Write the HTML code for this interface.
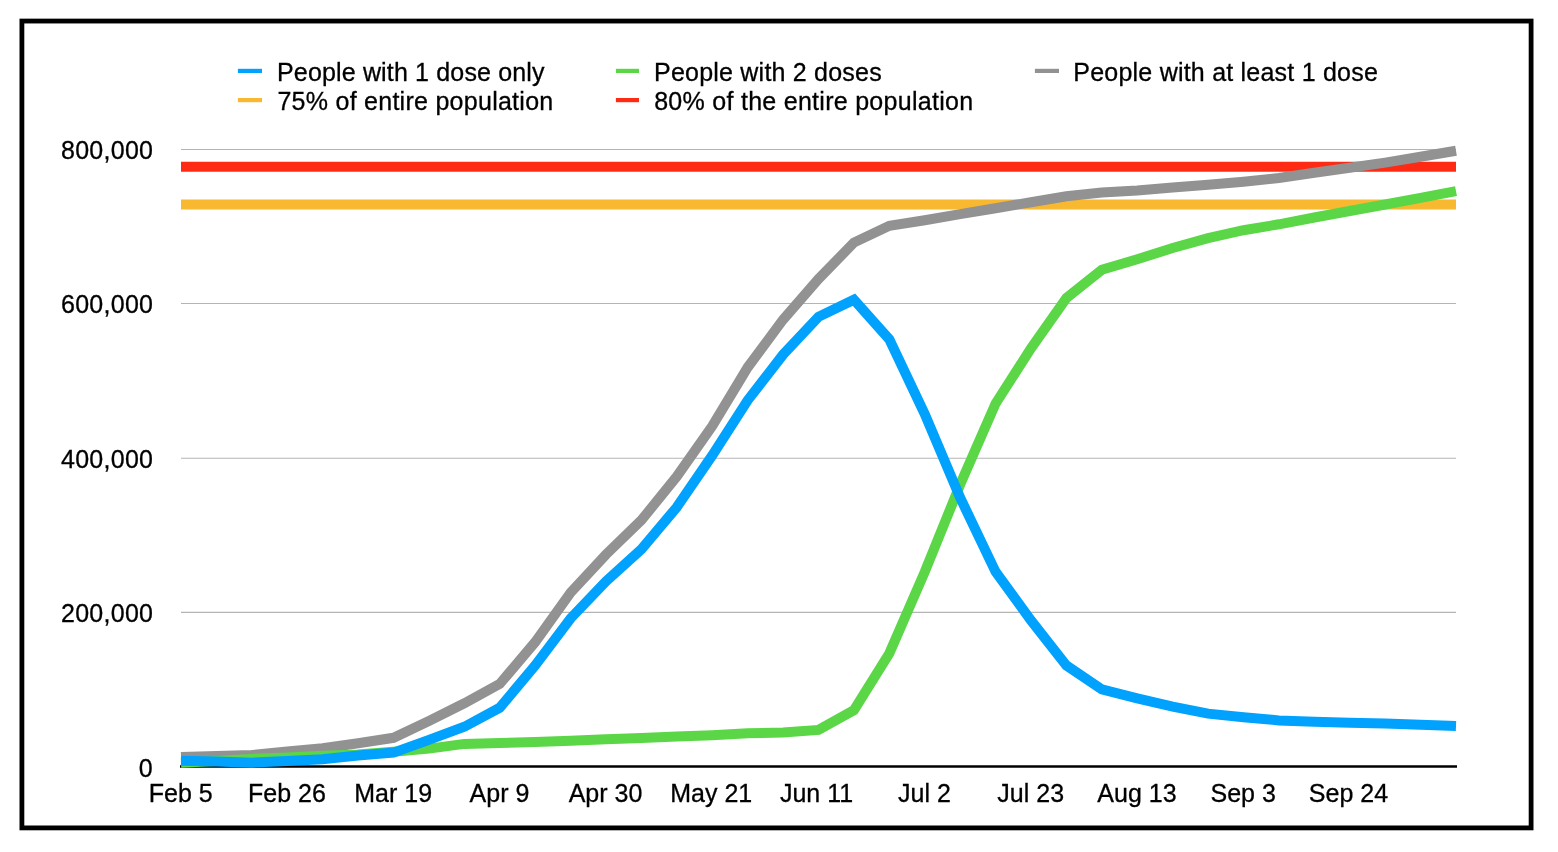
<!DOCTYPE html>
<html lang="en">
<head>
<meta charset="utf-8">
<title>Vaccination progress chart</title>
<style>
html,body{margin:0;padding:0;background:#fff;}
body{width:1558px;height:852px;overflow:hidden;}
svg{display:block;}
text{font-family:"Liberation Sans",Arial,Helvetica,sans-serif;font-size:25px;fill:#000;stroke:#000;stroke-width:0.3px;}
.ser{fill:none;stroke-width:10;stroke-linejoin:miter;stroke-linecap:butt;stroke-miterlimit:10;}
</style>
</head>
<body>
<svg width="1558" height="852" viewBox="0 0 1558 852">
<rect x="0" y="0" width="1558" height="852" fill="#ffffff"/>
<!-- frame -->
<rect x="21.9" y="21.05" width="1509.2" height="806.85" fill="none" stroke="#000" stroke-width="4.8"/>

<!-- gridlines -->
<g stroke="#b4b4b4" stroke-width="1.1">
<line x1="181" y1="149.5" x2="1456" y2="149.5"/>
<line x1="181" y1="303.5" x2="1456" y2="303.5"/>
<line x1="181" y1="458.3" x2="1456" y2="458.3"/>
<line x1="181" y1="612.4" x2="1456" y2="612.4"/>
</g>
<!-- y axis labels -->
<g text-anchor="end">
<text x="153.3" y="159.3" letter-spacing="0.28">800,000</text>
<text x="153.3" y="313.3" letter-spacing="0.28">600,000</text>
<text x="153.3" y="468.1" letter-spacing="0.28">400,000</text>
<text x="153.3" y="622.2" letter-spacing="0.28">200,000</text>
<text x="152.6" y="776.7">0</text>
</g>
<!-- threshold lines -->
<line class="ser" stroke="#f8b930" x1="181" y1="204.4" x2="1456" y2="204.4"/>
<line class="ser" stroke="#ff2a14" x1="181" y1="166.85" x2="1456" y2="166.85"/>
<!-- axis -->
<line x1="180" y1="766.45" x2="1457" y2="766.45" stroke="#000" stroke-width="2.5"/>
<!-- series -->
<polyline class="ser" stroke="#929292" points="181.00,757.00 216.42,756.00 251.83,755.10 287.25,751.60 322.67,748.30 358.08,743.30 393.50,737.80 428.92,720.90 464.33,703.30 499.75,683.90 535.17,642.10 570.58,592.60 606.00,554.50 641.42,520.20 676.83,476.40 712.25,426.00 747.67,367.40 783.08,319.60 818.50,279.00 853.92,242.60 889.33,225.80 924.75,220.20 960.17,214.10 995.58,208.30 1031.00,202.20 1066.42,196.30 1101.83,192.50 1137.25,190.60 1172.67,187.50 1208.08,184.70 1243.50,181.70 1278.92,178.00 1314.33,172.80 1349.75,167.70 1385.17,162.60 1420.58,156.80 1456.00,150.80"/>
<polyline class="ser" stroke="#5ad647" points="181.00,762.80 216.42,761.00 251.83,758.90 287.25,757.40 322.67,755.70 358.08,754.40 393.50,751.70 428.92,748.60 464.33,743.90 499.75,742.90 535.17,742.10 570.58,740.70 606.00,739.30 641.42,737.90 676.83,736.60 712.25,735.20 747.67,733.30 783.08,732.50 818.50,729.90 853.92,710.20 889.33,653.30 924.75,571.90 960.17,484.50 995.58,403.50 1031.00,348.30 1066.42,298.00 1101.83,269.75 1137.25,259.20 1172.67,248.00 1208.08,238.10 1243.50,230.20 1278.92,224.30 1314.33,217.50 1349.75,211.00 1385.17,204.50 1420.58,197.80 1456.00,191.20"/>
<polyline class="ser" stroke="#00a2fd" points="181.00,760.70 216.42,761.50 251.83,762.70 287.25,760.90 322.67,759.20 358.08,755.50 393.50,752.60 428.92,739.90 464.33,726.80 499.75,707.70 535.17,665.50 570.58,618.40 606.00,581.40 641.42,549.20 676.83,507.10 712.25,455.40 747.67,400.30 783.08,354.60 818.50,316.80 853.92,299.70 889.33,339.30 924.75,414.00 960.17,497.70 995.58,571.80 1031.00,620.40 1066.42,665.50 1101.83,689.30 1137.25,698.30 1172.67,706.60 1208.08,713.60 1243.50,717.20 1278.92,720.40 1314.33,721.80 1349.75,722.70 1385.17,723.50 1420.58,724.70 1456.00,726.10"/>
<!-- x axis labels -->
<g text-anchor="middle">
<text x="180.70" y="802.1">Feb 5</text>
<text x="286.95" y="802.1">Feb 26</text>
<text x="393.20" y="802.1">Mar 19</text>
<text x="499.45" y="802.1">Apr 9</text>
<text x="605.50" y="802.1">Apr 30</text>
<text x="711.25" y="802.1">May 21</text>
<text x="816.50" y="802.1">Jun 11</text>
<text x="924.45" y="802.1">Jul 2</text>
<text x="1030.70" y="802.1">Jul 23</text>
<text x="1136.95" y="802.1">Aug 13</text>
<text x="1243.20" y="802.1">Sep 3</text>
<text x="1348.45" y="802.1">Sep 24</text>
</g>
<!-- legend -->
<rect x="237.9" y="68.8" width="24.1" height="4.2" fill="#00a2fd"/>
<text x="277" y="80.8" letter-spacing="0.16">People with 1 dose only</text>
<rect x="237.9" y="98.0" width="24.1" height="4.2" fill="#f8b930"/>
<text x="277.4" y="109.9" letter-spacing="0.27">75% of entire population</text>
<rect x="615.9" y="68.8" width="23.1" height="4.2" fill="#5ad647"/>
<text x="654.1" y="80.8" letter-spacing="0.21">People with 2 doses</text>
<rect x="615.9" y="98.0" width="23.1" height="4.2" fill="#ff2a14"/>
<text x="654.2" y="109.9" letter-spacing="0.28">80% of the entire population</text>
<rect x="1034.9" y="68.8" width="24.1" height="4.2" fill="#929292"/>
<text x="1073.3" y="80.8" letter-spacing="0.22">People with at least 1 dose</text>
</svg>
</body>
</html>
